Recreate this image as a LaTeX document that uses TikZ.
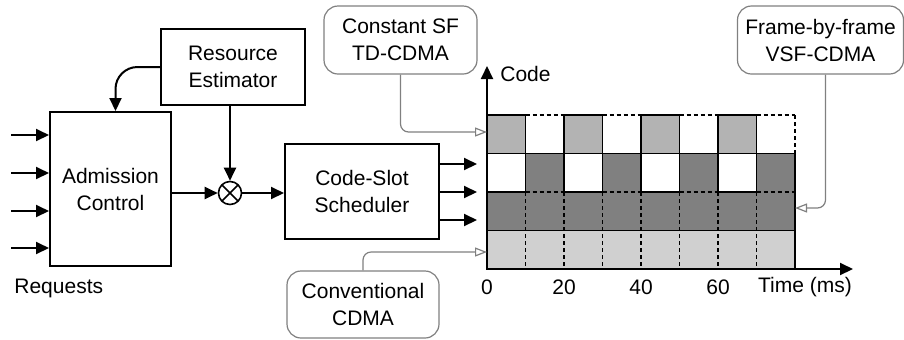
\documentclass[tikz,border=0pt]{standalone}
\usepackage{fontspec}
\setmainfont{Liberation Sans}
\usetikzlibrary{arrows.meta}
\definecolor{slotlight}{HTML}{B3B3B3}
\definecolor{slotdark}{HTML}{808080}
\definecolor{slotpale}{HTML}{D0D0D0}

\begin{document}
\begin{tikzpicture}[x=0.5pt,y=-0.5pt,font=\fontsize{10.5}{13.5}\selectfont,
  blk/.style={draw,line width=1pt,align=center,inner sep=0pt},
  arr/.style={-{Triangle[length=6.5pt,width=6pt]},line width=1pt},
  callout/.style={draw=black!50,line width=0.6pt,rounded corners=7pt,align=center,inner sep=0pt},
  pointer/.style={draw=black!50,line width=0.6pt,rounded corners=4pt,
    -{Triangle[open,length=6pt,width=4.5pt]}},
  solidline/.style={line width=0.8pt},
  dashline/.style={line width=0.8pt,dash pattern=on 2pt off 1.5pt}]
\useasboundingbox (0,0) rectangle (904,339);
% blocks
\node[blk,minimum width=60.5pt,minimum height=77pt] (ac) at (110.5,189) {Admission\\Control};
\node[blk,minimum width=72pt,minimum height=38pt] (re) at (233,67) {Resource\\Estimator};
\node[blk,minimum width=77pt,minimum height=47.5pt] (sched) at (362,191.5) {Code-Slot\\Scheduler};
\node[draw,circle,line width=0.8pt,minimum size=11.5pt,inner sep=0pt,
  path picture={\draw[line width=0.8pt] (path picture bounding box.north west) -- (path picture bounding box.south east)
    (path picture bounding box.north east) -- (path picture bounding box.south west);}] (mul) at (230,193) {};
\node[anchor=west,inner sep=0pt] (req) at (14,288) {Requests};
% requests in
\foreach \i/\y in {1/135,2/173,3/211,4/248}{
  \coordinate (in\i) at (11,\y);
  \draw[arr] (in\i) -- (in\i -| ac.west);
}
% feedback and product
\draw[arr,rounded corners=11pt] (re.west) -| ([xshift=2.5]ac.north);
\draw[arr] (mul.north |- re.south) -- (mul.north);
\draw[arr] (ac.east |- mul.west) -- (mul.west);
\draw[arr] (mul.east) -- (sched.west |- mul.east);
% scheduler out
\foreach \i/\y in {1/164,2/192,3/220}{
  \coordinate (out\i) at (477,\y);
  \draw[arr] (out\i -| sched.east) -- (out\i);
}
% code-slot grid
\def\cw{38.5}
\fill[slotpale] (487,230.5) rectangle (795,269);
\fill[slotdark] (487,192) rectangle (795,230.5);
\foreach \i in {0,...,7}{
  \pgfmathsetmacro{\x}{487+\cw*\i}
  \ifodd\i
    \fill[slotdark] (\x,153.5) rectangle (\x+\cw,192);
    \draw[dashline] (\x,115) -- (\x+\cw,115);
    \draw[dashline] (\x,192) -- (\x+\cw,192);
  \else
    \fill[slotlight] (\x,115) rectangle (\x+\cw,153.5);
  \fi
}
\foreach \i in {1,...,7}
  \draw[dashline] (487+\cw*\i,192) -- (487+\cw*\i,269);
\draw[dashline] (795,115) -- (795,153.5);
\foreach \i in {0,2,4,6}{
  \pgfmathsetmacro{\x}{487+\cw*\i}
  \draw[solidline] (\x,115) rectangle (\x+\cw,153.5);
  \draw[solidline] (\x,153.5) rectangle (\x+\cw,192);
}
\draw[solidline] (487,153.5) -- (795,153.5);
\draw[solidline] (487,230.5) -- (795,230.5);
\draw[solidline] (487,153.5) rectangle (795,269);
% axes
\coordinate (o) at (487,269);
\coordinate (ytip) at (487,66);
\coordinate (xtip) at (853,269);
\draw[arr] (o) -- (ytip);
\draw[arr] (o) -- (xtip);
\node[anchor=west,inner sep=0pt] (code) at (500,74) {Code};
\foreach \i/\lab in {0/0,2/20,4/40,6/60}
  \node[inner sep=0pt] (t\i) at (487+\cw*\i,287) {\lab};
\node[inner sep=0pt] (time) at (805,287) {Time (ms)};
% callouts
\coordinate (row1) at (487,132);
\coordinate (row3) at (795,208);
\coordinate (row4) at (487,252);
\node[callout,minimum width=76.5pt,minimum height=34pt] (sf) at (400.5,40) {Constant SF\\TD-CDMA};
\node[callout,minimum width=83pt,minimum height=34pt] (vsf) at (820.5,40) {Frame-by-frame\\VSF-CDMA};
\node[callout,minimum width=76pt,minimum height=33.5pt] (conv) at (363,304.5) {Conventional\\CDMA};
\draw[pointer] (sf.south) |- (row1);
\draw[pointer] ([xshift=2.5]vsf.south) |- (row3);
\draw[pointer] (conv.north) |- (row4);
\end{tikzpicture}
\end{document}
